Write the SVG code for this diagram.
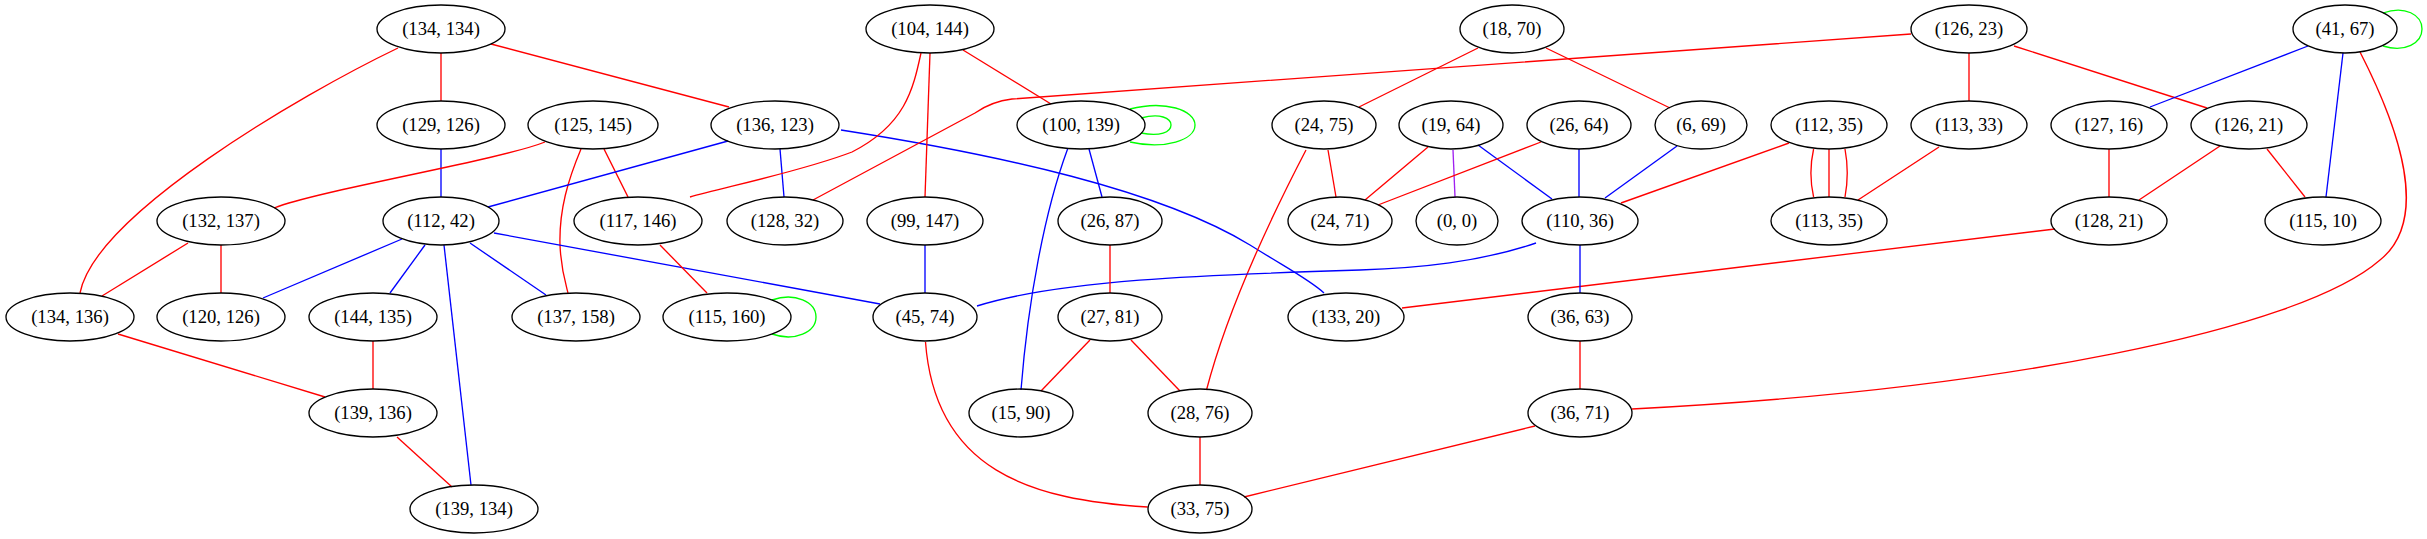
<svg xmlns="http://www.w3.org/2000/svg" width="2427" height="539" viewBox="0 0 2427 539">
<style>
.n ellipse{fill:none;stroke:#000;stroke-width:1.33}
.n text{font-family:"Liberation Serif","Times New Roman",serif;font-size:18.67px;text-anchor:middle;fill:#000}
#edges path{fill:none;stroke-width:1.33}
.r{stroke:#ff0000}.b{stroke:#0000ff}.g{stroke:#00ff00}.p{stroke:#a020f0}
</style>
<rect width="2427" height="539" fill="#fff"/>
<g id="edges">
<path class="r" d="M441,53 L441,101"/>
<path class="r" d="M491,44 L729,107"/>
<path class="r" d="M398,48 C300,95 95,215 80,293"/>
<path class="b" d="M441,149 L441,197"/>
<path class="r" d="M545,142 C500,160 320,190 274,208"/>
<path class="r" d="M604,149 L628,197"/>
<path class="r" d="M581,149 C568,180 559,210 560,245 C561,270 566,285 568,293"/>
<path class="b" d="M728,141 L488,207"/>
<path class="b" d="M780,149 L784,197"/>
<path class="b" d="M841,130 C1000,155 1160,190 1250,245 C1290,270 1310,280 1324,293"/>
<path class="r" d="M963,50 L1051,104"/>
<path class="r" d="M930,53 L925,197"/>
<path class="r" d="M921,53 C913,90 905,125 852,152 C800,172 720,188 690,197"/>
<path class="g" d="M1130,109 C1165,100 1195,110 1195,125 C1195,140 1165,150 1130,142"/>
<path class="g" d="M1141,118 C1160,113 1171,118 1171,125 C1171,132 1160,137 1141,133"/>
<path class="b" d="M1089,149 L1102,197"/>
<path class="b" d="M1067.6,149 C1045,210 1028,300 1021,390"/>
<path class="r" d="M1478,48 L1359,107"/>
<path class="r" d="M1546,48 L1670,108"/>
<path class="r" d="M1911,34 L1012,99 C995,101 985,106 975,113 L813,200"/>
<path class="r" d="M1969,53 L1969,101"/>
<path class="r" d="M2014,46 L2207,108"/>
<path class="g" d="M2383,13 C2405,5 2422,15 2422,29 C2422,43 2405,53 2383,46"/>
<path class="b" d="M2308,46 L2150,107"/>
<path class="b" d="M2343,53 L2326,197"/>
<path class="r" d="M2360,52 C2400,130 2430,220 2380,260 C2300,330 2000,390 1632,409"/>
<path class="r" d="M1328,150 L1336,197"/>
<path class="r" d="M1306,150 C1280,200 1230,300 1206.5,390"/>
<path class="r" d="M1428,147 L1365,200"/>
<path class="p" d="M1453,150 L1455,197"/>
<path class="b" d="M1478,145 L1552,199"/>
<path class="r" d="M1541,142 L1378,205"/>
<path class="b" d="M1579,149 L1579,197"/>
<path class="b" d="M1677,146 L1605,198"/>
<path class="r" d="M1789,143 L1621,203"/>
<path class="r" d="M1813.6,149 C1810,165 1810,181 1813.6,197"/>
<path class="r" d="M1829,149 L1829,197"/>
<path class="r" d="M1845,149 C1848,165 1848,181 1845,197"/>
<path class="r" d="M1939,147 L1858,200"/>
<path class="r" d="M2109,149 L2109,197"/>
<path class="r" d="M2220,146 L2139,200"/>
<path class="r" d="M2267,149 L2305,197"/>
<path class="r" d="M2055,229 L1402,308"/>
<path class="b" d="M1536,243 C1480,262 1420,268 1360,270 C1200,275 1060,280 977,306"/>
<path class="b" d="M1580,245 L1580,293"/>
<path class="r" d="M1580,341 L1580,389"/>
<path class="b" d="M402,239 L263,298"/>
<path class="b" d="M425,245 L390,293"/>
<path class="b" d="M444,245 L471,485"/>
<path class="b" d="M470,243 L546,295"/>
<path class="b" d="M494,233 L880,304"/>
<path class="r" d="M188,243 L102,296"/>
<path class="r" d="M221,245 L221,293"/>
<path class="r" d="M660,245 L707,293"/>
<path class="g" d="M772,300 C795,292 816,302 816,317 C816,332 795,342 772,334"/>
<path class="b" d="M925,245 L925,293"/>
<path class="r" d="M1110,245 L1110,293"/>
<path class="r" d="M118,334 L325,397"/>
<path class="r" d="M373,341 L373,389"/>
<path class="r" d="M397,437 L452,487"/>
<path class="r" d="M925.5,342 C935,470 1030,500 1147.6,507"/>
<path class="r" d="M1090,340 L1041,391"/>
<path class="r" d="M1131,340 L1180,391"/>
<path class="r" d="M1200,437 L1200,485"/>
<path class="r" d="M1535,426 L1244,497"/>
</g>
<g id="n134_134" class="n"><ellipse cx="441" cy="29" rx="64" ry="24"/><text x="441" y="35">(134, 134)</text></g>
<g id="n104_144" class="n"><ellipse cx="930" cy="29" rx="64" ry="24"/><text x="930" y="35">(104, 144)</text></g>
<g id="n18_70" class="n"><ellipse cx="1512" cy="29" rx="52" ry="24"/><text x="1512" y="35">(18, 70)</text></g>
<g id="n126_23" class="n"><ellipse cx="1969" cy="29" rx="58" ry="24"/><text x="1969" y="35">(126, 23)</text></g>
<g id="n41_67" class="n"><ellipse cx="2345" cy="29" rx="52" ry="24"/><text x="2345" y="35">(41, 67)</text></g>
<g id="n129_126" class="n"><ellipse cx="441" cy="125" rx="64" ry="24"/><text x="441" y="131">(129, 126)</text></g>
<g id="n125_145" class="n"><ellipse cx="593" cy="125" rx="65" ry="24"/><text x="593" y="131">(125, 145)</text></g>
<g id="n136_123" class="n"><ellipse cx="775" cy="125" rx="64" ry="24"/><text x="775" y="131">(136, 123)</text></g>
<g id="n100_139" class="n"><ellipse cx="1081" cy="125" rx="64" ry="24"/><text x="1081" y="131">(100, 139)</text></g>
<g id="n24_75" class="n"><ellipse cx="1324" cy="125" rx="52" ry="24"/><text x="1324" y="131">(24, 75)</text></g>
<g id="n19_64" class="n"><ellipse cx="1451" cy="125" rx="52" ry="24"/><text x="1451" y="131">(19, 64)</text></g>
<g id="n26_64" class="n"><ellipse cx="1579" cy="125" rx="52" ry="24"/><text x="1579" y="131">(26, 64)</text></g>
<g id="n6_69" class="n"><ellipse cx="1701" cy="125" rx="46" ry="24"/><text x="1701" y="131">(6, 69)</text></g>
<g id="n112_35" class="n"><ellipse cx="1829" cy="125" rx="58" ry="24"/><text x="1829" y="131">(112, 35)</text></g>
<g id="n113_33" class="n"><ellipse cx="1969" cy="125" rx="58" ry="24"/><text x="1969" y="131">(113, 33)</text></g>
<g id="n127_16" class="n"><ellipse cx="2109" cy="125" rx="58" ry="24"/><text x="2109" y="131">(127, 16)</text></g>
<g id="n126_21" class="n"><ellipse cx="2249" cy="125" rx="58" ry="24"/><text x="2249" y="131">(126, 21)</text></g>
<g id="n132_137" class="n"><ellipse cx="221" cy="221" rx="64" ry="24"/><text x="221" y="227">(132, 137)</text></g>
<g id="n112_42" class="n"><ellipse cx="441" cy="221" rx="58" ry="24"/><text x="441" y="227">(112, 42)</text></g>
<g id="n117_146" class="n"><ellipse cx="638" cy="221" rx="64" ry="24"/><text x="638" y="227">(117, 146)</text></g>
<g id="n128_32" class="n"><ellipse cx="785" cy="221" rx="58" ry="24"/><text x="785" y="227">(128, 32)</text></g>
<g id="n99_147" class="n"><ellipse cx="925" cy="221" rx="58" ry="24"/><text x="925" y="227">(99, 147)</text></g>
<g id="n26_87" class="n"><ellipse cx="1110" cy="221" rx="52" ry="24"/><text x="1110" y="227">(26, 87)</text></g>
<g id="n24_71" class="n"><ellipse cx="1340" cy="221" rx="52" ry="24"/><text x="1340" y="227">(24, 71)</text></g>
<g id="n0_0" class="n"><ellipse cx="1457" cy="221" rx="41" ry="24"/><text x="1457" y="227">(0, 0)</text></g>
<g id="n110_36" class="n"><ellipse cx="1580" cy="221" rx="58" ry="24"/><text x="1580" y="227">(110, 36)</text></g>
<g id="n113_35" class="n"><ellipse cx="1829" cy="221" rx="58" ry="24"/><text x="1829" y="227">(113, 35)</text></g>
<g id="n128_21" class="n"><ellipse cx="2109" cy="221" rx="58" ry="24"/><text x="2109" y="227">(128, 21)</text></g>
<g id="n115_10" class="n"><ellipse cx="2323" cy="221" rx="58" ry="24"/><text x="2323" y="227">(115, 10)</text></g>
<g id="n134_136" class="n"><ellipse cx="70" cy="317" rx="64" ry="24"/><text x="70" y="323">(134, 136)</text></g>
<g id="n120_126" class="n"><ellipse cx="221" cy="317" rx="64" ry="24"/><text x="221" y="323">(120, 126)</text></g>
<g id="n144_135" class="n"><ellipse cx="373" cy="317" rx="64" ry="24"/><text x="373" y="323">(144, 135)</text></g>
<g id="n137_158" class="n"><ellipse cx="576" cy="317" rx="64" ry="24"/><text x="576" y="323">(137, 158)</text></g>
<g id="n115_160" class="n"><ellipse cx="727" cy="317" rx="64" ry="24"/><text x="727" y="323">(115, 160)</text></g>
<g id="n45_74" class="n"><ellipse cx="925" cy="317" rx="52" ry="24"/><text x="925" y="323">(45, 74)</text></g>
<g id="n27_81" class="n"><ellipse cx="1110" cy="317" rx="52" ry="24"/><text x="1110" y="323">(27, 81)</text></g>
<g id="n133_20" class="n"><ellipse cx="1346" cy="317" rx="58" ry="24"/><text x="1346" y="323">(133, 20)</text></g>
<g id="n36_63" class="n"><ellipse cx="1580" cy="317" rx="52" ry="24"/><text x="1580" y="323">(36, 63)</text></g>
<g id="n139_136" class="n"><ellipse cx="373" cy="413" rx="64" ry="24"/><text x="373" y="419">(139, 136)</text></g>
<g id="n15_90" class="n"><ellipse cx="1021" cy="413" rx="52" ry="24"/><text x="1021" y="419">(15, 90)</text></g>
<g id="n28_76" class="n"><ellipse cx="1200" cy="413" rx="52" ry="24"/><text x="1200" y="419">(28, 76)</text></g>
<g id="n36_71" class="n"><ellipse cx="1580" cy="413" rx="52" ry="24"/><text x="1580" y="419">(36, 71)</text></g>
<g id="n139_134" class="n"><ellipse cx="474" cy="509" rx="64" ry="24"/><text x="474" y="515">(139, 134)</text></g>
<g id="n33_75" class="n"><ellipse cx="1200" cy="509" rx="52" ry="24"/><text x="1200" y="515">(33, 75)</text></g>
</svg>
